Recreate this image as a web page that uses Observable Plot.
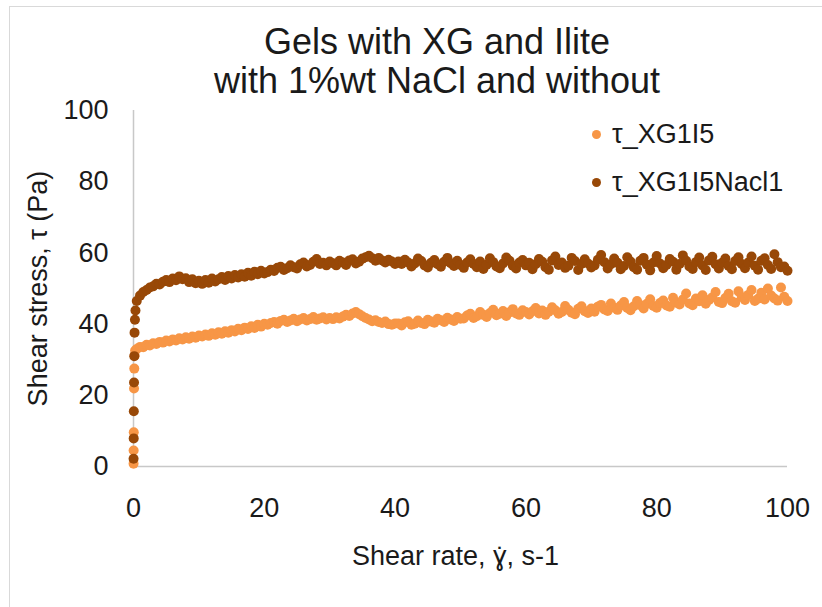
<!DOCTYPE html>
<html><head><meta charset="utf-8">
<script src="https://cdn.jsdelivr.net/npm/d3@7"></script>
<script src="https://cdn.jsdelivr.net/npm/@observablehq/plot@0.6"></script>
<style>
body{margin:0;background:#fff;font-family:"Liberation Sans",Arial,sans-serif;}
#wrap{position:relative;width:822px;height:607px;overflow:hidden;background:#fff}
#frame{position:absolute;left:9px;top:6px;width:900px;height:700px;border-left:1px solid #d9d9d9;border-top:1px solid #d9d9d9;pointer-events:none}
#title{position:relative;height:94px;box-sizing:border-box;padding-top:22px;padding-left:52px;text-align:center;font-size:36px;line-height:39px;color:#1a1a1a}
#legend{position:absolute;left:592px;top:110px;font-size:27px;color:#1a1a1a;line-height:48px}
.item{display:flex;align-items:center;white-space:nowrap}
.sw{display:inline-block;width:9px;height:9px;border-radius:50%;margin-right:11px}
#chart svg{display:block}
</style>
</head><body>
<div id="wrap">
<div id="frame"></div>
<div id="title"></div>
<div id="chart"></div>
<div id="legend"></div>
</div>
<script>
const titleLines = ["Gels with XG and Ilite", "with 1%wt NaCl and without"];
const xTitle = "Shear rate, \u0263\u0307, s-1";
const yTitle = "Shear stress, \u03c4 (Pa)";
const seriesNames = ["\u03c4_XG1I5", "\u03c4_XG1I5Nacl1"];
const seriesColors = ["#F79646", "#984807"];
const xTicks = [0, 20, 40, 60, 80, 100];
const yTicks = [0, 20, 40, 60, 80, 100];

// first readings near zero shear rate
const earlyRateLight = [0.01, 0.02, 0.04, 0.08, 0.12, 0.18, 0.25];
const earlyLight = [0.8, 4.5, 9.6, 21.9, 27.5, 31.2, 32.6];
const earlyRateDark = [0.01, 0.03, 0.05, 0.08, 0.12, 0.16, 0.22, 0.3];
const earlyDark = [2.2, 7.9, 15.5, 23.6, 31.0, 37.6, 41.2, 43.8];

const shearRate = [
0.5,1,1.5,2,2.5,3,3.5,4,4.5,5,5.5,6,6.5,7,7.5,8,8.5,9,9.5,10,
10.5,11,11.5,12,12.5,13,13.5,14,14.5,15,15.5,16,16.5,17,17.5,18,18.5,19,19.5,20,
20.5,21,21.5,22,22.5,23,23.5,24,24.5,25,25.5,26,26.5,27,27.5,28,28.5,29,29.5,30,
30.5,31,31.5,32,32.5,33,33.5,34,34.5,35,35.5,36,36.5,37,37.5,38,38.5,39,39.5,40,
40.5,41,41.5,42,42.5,43,43.5,44,44.5,45,45.5,46,46.5,47,47.5,48,48.5,49,49.5,50,
50.5,51,51.5,52,52.5,53,53.5,54,54.5,55,55.5,56,56.5,57,57.5,58,58.5,59,59.5,60,
60.5,61,61.5,62,62.5,63,63.5,64,64.5,65,65.5,66,66.5,67,67.5,68,68.5,69,69.5,70,
70.5,71,71.5,72,72.5,73,73.5,74,74.5,75,75.5,76,76.5,77,77.5,78,78.5,79,79.5,80,
80.5,81,81.5,82,82.5,83,83.5,84,84.5,85,85.5,86,86.5,87,87.5,88,88.5,89,89.5,90,
90.5,91,91.5,92,92.5,93,93.5,94,94.5,95,95.5,96,96.5,97,97.5,98,98.5,99,99.5,100
];

const tauXG1I5 = [
33.0,33.6,33.5,34.2,34.0,34.6,34.4,35.0,34.8,35.4,35.1,35.7,35.4,36.0,35.7,36.3,35.9,36.5,36.2,36.8,
36.5,37.1,36.7,37.4,37.0,37.7,37.3,38.0,37.6,38.3,37.9,38.7,38.3,39.0,38.6,39.4,38.9,39.8,39.3,40.1,
39.8,40.3,40.6,40.1,40.9,41.2,40.6,41.0,41.5,40.8,41.3,41.7,41.0,41.4,42.0,41.2,41.6,41.9,41.3,41.7,
41.4,41.9,41.6,42.1,42.6,42.3,43.0,43.4,42.8,42.2,41.7,41.3,40.8,41.1,40.6,40.3,40.7,40.0,39.8,40.2,
40.2,39.6,40.5,40.8,39.8,40.1,41.0,40.3,40.0,41.2,40.7,40.4,41.5,41.1,40.6,41.8,41.3,40.9,42.0,41.5,
41.6,42.4,42.9,41.7,42.2,43.4,42.6,42.0,43.1,44.0,42.5,42.9,43.7,42.3,43.3,44.2,43.0,42.6,43.9,43.4,
42.7,43.6,44.5,43.0,43.8,42.6,43.5,44.7,43.9,42.9,43.4,45.1,44.0,43.2,42.8,44.3,45.0,43.6,43.1,44.4,
43.5,44.9,45.4,44.1,43.7,45.8,44.6,44.0,45.2,46.2,44.5,43.9,45.0,46.5,45.3,44.4,45.7,47.0,45.1,44.6,
45.9,46.6,45.2,44.9,47.4,46.0,45.5,46.9,48.6,45.8,45.3,47.2,46.4,48.1,45.7,46.8,47.5,49.0,46.2,45.9,
47.3,48.5,46.4,46.0,49.2,47.6,46.8,48.2,49.6,46.5,47.1,48.8,46.9,50.0,48.0,47.2,46.6,50.3,47.7,46.5
];

const tauXG1I5Nacl1 = [
46.5,48.0,49.0,49.6,50.3,50.6,51.3,51.1,51.9,52.4,51.8,52.8,52.3,53.4,52.6,52.9,51.8,52.6,51.5,52.2,
51.3,52.4,51.6,52.8,52.0,52.6,53.2,52.4,53.5,52.8,53.8,53.1,54.0,53.3,54.4,53.6,54.7,54.0,55.0,54.2,
54.6,55.3,54.9,55.8,56.1,55.2,55.7,56.5,56.0,55.6,56.8,57.3,56.2,56.6,57.5,58.3,56.9,57.2,56.5,57.6,
57.1,56.5,57.8,57.3,56.6,57.9,58.2,57.0,57.5,58.4,58.8,59.2,58.5,57.8,58.6,57.9,57.3,58.1,57.6,56.9,
57.6,56.9,58.1,57.3,56.2,57.0,58.4,57.7,56.5,55.9,57.2,58.0,56.8,56.1,57.5,58.6,57.1,56.3,57.8,56.6,
55.8,57.3,58.2,56.9,56.0,57.6,55.5,56.7,58.5,57.4,56.2,55.7,57.0,58.7,57.8,56.4,55.6,57.3,58.0,56.5,
57.2,55.4,56.8,58.3,57.5,56.0,55.3,57.9,59.0,56.6,57.3,55.8,56.4,58.6,57.7,55.2,56.9,58.2,57.0,55.9,
56.5,58.1,59.4,57.4,55.6,56.8,58.4,57.2,55.4,56.3,58.8,57.6,56.0,55.3,57.8,58.6,56.7,55.1,57.3,59.1,
57.0,55.7,56.6,58.3,57.5,55.3,56.9,59.3,57.8,56.2,55.5,57.4,58.7,56.5,55.2,57.9,58.9,56.8,55.6,57.2,
58.4,56.3,55.4,57.7,58.8,56.9,55.7,57.3,59.0,56.4,55.3,57.8,58.5,56.6,55.5,59.6,57.4,56.0,56.2,55.0
];

const lightData = earlyRateLight.map((x, i) => ({x, y: earlyLight[i]}))
  .concat(shearRate.map((x, i) => ({x, y: tauXG1I5[i]})));
const darkData = earlyRateDark.map((x, i) => ({x, y: earlyDark[i]}))
  .concat(shearRate.map((x, i) => ({x, y: tauXG1I5Nacl1[i]})));

document.getElementById("title").innerHTML = titleLines.join("<br>");
document.getElementById("legend").innerHTML = seriesNames.map((n, i) =>
  `<div class="item"><span class="sw" style="background:${seriesColors[i]}"></span>${n}</div>`).join("");

const font = "'Liberation Sans', Arial, sans-serif";
const chart = Plot.plot({
  width: 822,
  height: 513,
  marginTop: 16,
  marginLeft: 133,
  marginRight: 35,
  marginBottom: 141,
  x: {domain: [0, 100]},
  y: {domain: [0, 100]},
  style: {fontFamily: font, fontSize: "27px", color: "#1a1a1a", background: "transparent", overflow: "visible"},
  marks: [
    Plot.ruleY([0], {stroke: "#c8c8c8", strokeWidth: 1.5}),
    Plot.ruleX([0], {stroke: "#c8c8c8", strokeWidth: 1.5}),
    Plot.axisX(xTicks, {tickSize: 0, tickPadding: 31, fontSize: 27, label: null}),
    Plot.axisY(yTicks, {tickSize: 0, tickPadding: 25, fontSize: 27, label: null}),
    Plot.dot(lightData, {x: "x", y: "y", r: 5, fill: seriesColors[0], stroke: "none"}),
    Plot.dot(darkData, {x: "x", y: "y", r: 5, fill: seriesColors[1], stroke: "none"}),
    Plot.text([xTitle], {text: d => d, frameAnchor: "bottom", lineAnchor: "middle", dy: 90, dx: -5, fontSize: 27, fill: "#1a1a1a"}),
    Plot.text([yTitle], {text: d => d, frameAnchor: "left", textAnchor: "middle", lineAnchor: "middle", dx: -95, rotate: -90, fontSize: 27, fill: "#1a1a1a"})
  ]
});
document.getElementById("chart").appendChild(chart);
</script>
</body></html>
